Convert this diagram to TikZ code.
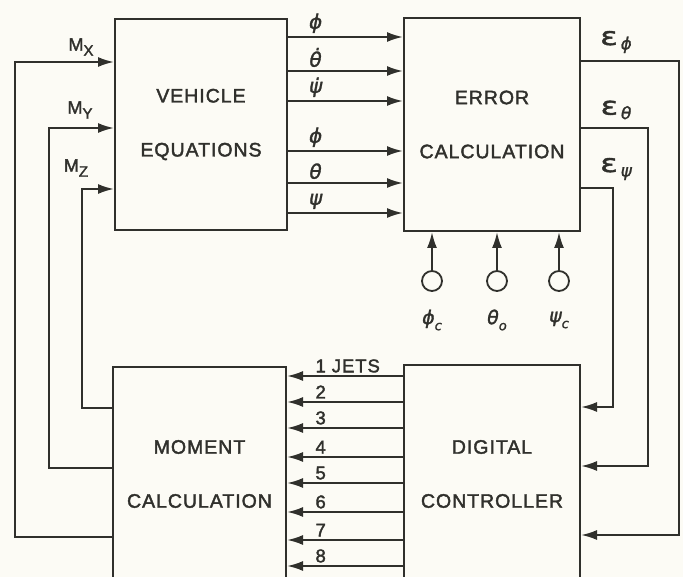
\documentclass[tikz,border=0pt]{standalone}
\usepackage{fontspec}
\setmainfont{Liberation Sans}[LetterSpace=5, FakeBold=2]
\newfontfamily\grk{DejaVu Sans}[FakeBold=1.5]
\usetikzlibrary{arrows.meta}
\definecolor{ink}{RGB}{48,48,44}
\definecolor{paper}{RGB}{252,251,245}
\newcommand{\msub}[1]{{\fontsize{18}{18}\selectfont M}\raisebox{-0.55ex}{\fontsize{15}{15}\selectfont #1}}
\newcommand{\gsub}[2]{{\grk\itshape #1}\raisebox{-0.6ex}{\fontsize{13}{13}\selectfont\grk\itshape #2}}
\newcommand{\errlab}[1]{\scalebox{1.3}[1]{\fontsize{25}{25}\selectfont\grk ε}\,\raisebox{-0.5ex}{\fontsize{17}{17}\selectfont\grk\itshape #1}}

\begin{document}
\begin{tikzpicture}[x=1pt, y=-1pt, >={Latex[length=16pt,width=10pt]},
	every node/.style={text=ink, font=\fontsize{17}{18}\selectfont},
	block/.style={draw=ink, line width=2pt, align=center, font=\fontsize{19.5}{54}\selectfont},
	sig/.style={draw=ink, line width=2pt, ->},
	src/.style={circle, draw=ink, line width=1.8pt, minimum size=20pt, inner sep=0pt}]
	\useasboundingbox (0,0) rectangle (683,577);
	\clip (0,0) rectangle (683,577);
	\fill[paper] (0,0) rectangle (683,577);
	% blocks
	\node[block, minimum width=172pt, minimum height=211pt] (veh) at (201,124.5) {VEHICLE\\EQUATIONS};
	\node[block, minimum width=176pt, minimum height=213pt] (err) at (492,124.5) {ERROR\\CALCULATION};
	\node[block, minimum width=173pt, minimum height=214pt] (mom) at (199.5,474) {MOMENT\\CALCULATION};
	\node[block, minimum width=176pt, minimum height=218pt] (dig) at (492,474) {DIGITAL\\CONTROLLER};
	% rates and angles
	\foreach \y/\lab in {37/ϕ, 71/θ^^^^0307, 101/ψ^^^^0307, 151/ϕ, 183/θ, 213/ψ}
		\draw[sig] (veh.east |- 0,\y) -- (err.west |- 0,\y) node[pos=0.24, above=3pt, inner sep=0pt, font=\fontsize{20}{20}\selectfont\grk\itshape] {\lab};
	% commanded attitude
	\foreach \x/\name/\lab in {432/phic/{\gsub{ϕ}{c}}, 497/thetao/{\gsub{θ}{o}}, 559/psic/{\gsub{ψ}{c}}} {
		\node[src] (\name) at (\x,281) {};
		\draw[sig] (\name) -- (\name |- err.south);
		\node[font=\fontsize{19}{20}\selectfont] (\name-lab) at (\x,320) {\lab};
	}
	% errors to controller
	\foreach \ya/\dx/\yb in {61/98/535, 128/67/466, 188/32/407}
		\draw[sig] (err.east |- 0,\ya) -- ++(\dx,0) |- (dig.east |- 0,\yb);
	\node (ephi) at (616,42) {\errlab{ϕ}};
	\node (etheta) at (616,110) {\errlab{θ}};
	\node (epsi) at (616,169) {\errlab{ψ}};
	% jets
	\foreach \y/\lab in {376/1 JETS, 402/2, 428/3, 457/4, 483/5, 512/6, 540/7, 566/8}
		\draw[sig] (dig.west |- 0,\y) -- (mom.east |- 0,\y) node[pos=0.78, anchor=south west, inner sep=2pt, yshift=0.5pt, font=\fontsize{18.5}{18}\selectfont] {\lab};
	% moments back to vehicle
	\foreach \ya/\dx/\yb in {408/30/189, 468/63/128, 537/97/62}
		\draw[sig] (mom.west |- 0,\ya) -- ++(-\dx,0) |- (veh.west |- 0,\yb);
	\node (mx) at (81,47) {\msub{X}};
	\node (my) at (80,110) {\msub{Y}};
	\node (mz) at (76,168) {\msub{Z}};
\end{tikzpicture}
\end{document}
